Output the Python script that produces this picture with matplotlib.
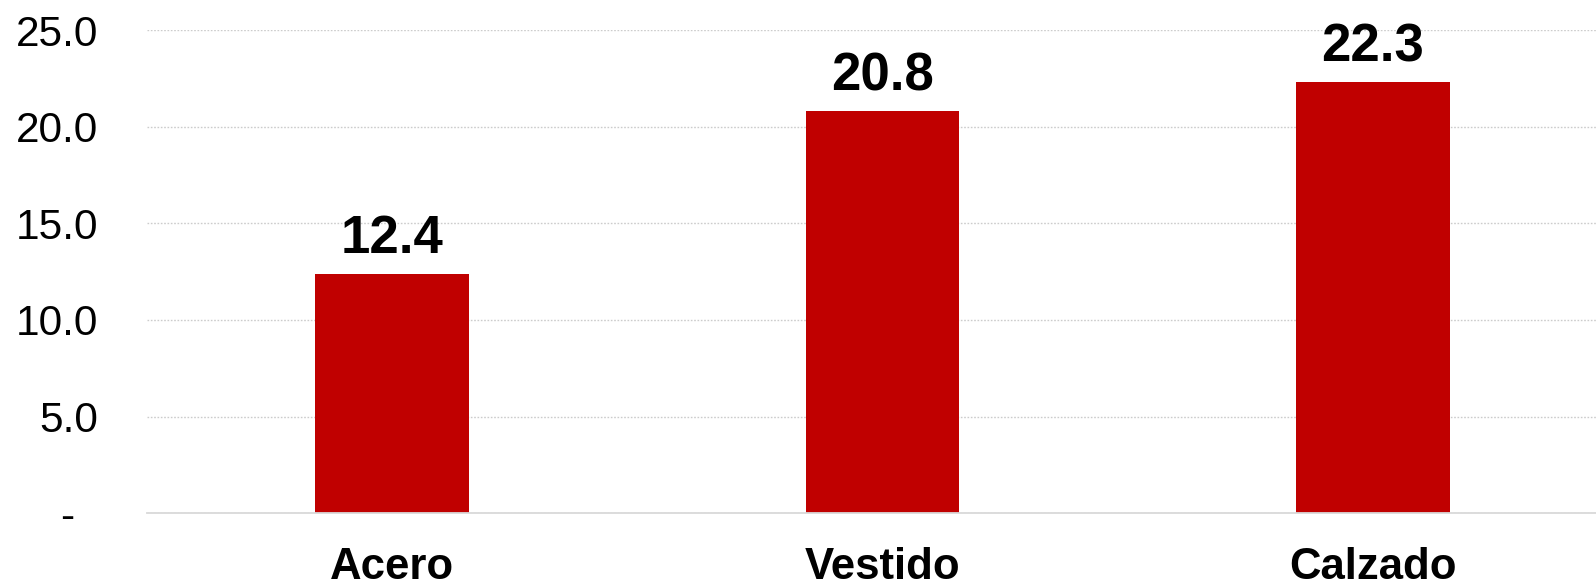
import matplotlib.pyplot as plt

# ---------------------------------------------------------------------------
# Data
# ---------------------------------------------------------------------------
categories = ["Acero", "Vestido", "Calzado"]
values = [12.4, 20.8, 22.3]
yticks = [0, 5, 10, 15, 20, 25]
ytick_labels = ["-  ", "5.0", "10.0", "15.0", "20.0", "25.0"]

RED = "#c00000"
GRID = "#cccccc"
AXIS = "#d9d9d9"

plt.rcParams["font.family"] = ["Liberation Sans", "DejaVu Sans"]

fig = plt.figure(figsize=(15.96, 5.8), dpi=100)
fig.patch.set_facecolor("white")

# axes run past the right edge, as in the source slide
ax = fig.add_axes([147 / 1596, 66.7 / 580, 1471 / 1596, 483.3 / 580])
ax.set_facecolor("none")

x = range(len(categories))
bars = ax.bar(x, values, width=0.314, color=RED, zorder=3)

for bar, v in zip(bars, values):
    ax.annotate(f"{v:.1f}", (bar.get_x() + bar.get_width() / 2, v),
                xytext=(0, 15), textcoords="offset points",
                ha="center", va="baseline", fontsize=38, fontweight="bold", color="black")

ax.set_xlim(-0.5, 2.5)
ax.set_ylim(0, 25)
ax.set_xticks(list(x))
ax.set_xticklabels(categories, fontsize=31.5, fontweight="bold")
ax.set_yticks(yticks)
ax.set_yticklabels(ytick_labels, fontsize=30.5)

ax.tick_params(axis="x", length=0, pad=24)
ax.tick_params(axis="y", length=0, pad=35)

for s in ["top", "right", "left"]:
    ax.spines[s].set_visible(False)
ax.spines["bottom"].set_color(AXIS)
ax.spines["bottom"].set_linewidth(1.3)
ax.spines["bottom"].set_zorder(4)

ax.grid(axis="y", color=GRID, linestyle=(0, (1.2, 1.2)), linewidth=1.0, zorder=0)
ax.grid(axis="x", visible=False)

fig.savefig("out.png", dpi=100, facecolor="white")
